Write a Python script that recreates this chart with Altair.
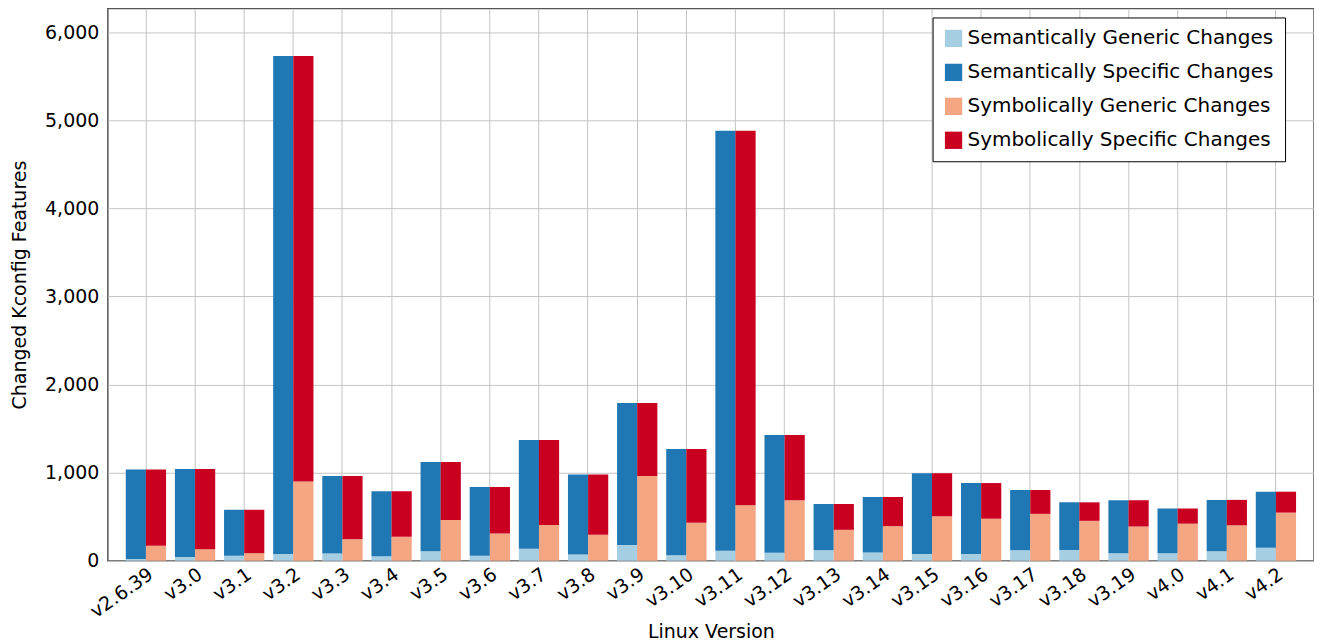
import altair as alt
import pandas as pd

versions = ["v2.6.39", "v3.0", "v3.1", "v3.2", "v3.3", "v3.4", "v3.5", "v3.6", "v3.7",
            "v3.8", "v3.9", "v3.10", "v3.11", "v3.12", "v3.13", "v3.14", "v3.15",
            "v3.16", "v3.17", "v3.18", "v3.19", "v4.0", "v4.1", "v4.2"]
totals = [1035, 1040, 578, 5730, 960, 788, 1121, 835, 1371, 979, 1790, 1268, 4881,
          1427, 643, 723, 993, 881, 802, 662, 685, 592, 690, 783]
sem_generic = [20, 42, 56, 75, 80, 51, 107, 56, 135, 70, 177, 61, 112, 89, 117, 93,
               75, 75, 117, 121, 84, 84, 107, 145]
sym_generic = [168, 130, 84, 900, 242, 270, 462, 308, 406, 294, 960, 429, 629, 685,
               350, 392, 503, 476, 531, 452, 387, 420, 401, 545]

categories = ["Semantically Generic Changes", "Semantically Specific Changes",
              "Symbolically Generic Changes", "Symbolically Specific Changes"]
colors = ["#a6cee3", "#1f78b4", "#f4a582", "#ca0020"]
kinds = ["Semantic", "Symbolic"]
y_ticks = [0, 1000, 2000, 3000, 4000, 5000, 6000]

rows = []
for v, t, sg, yg in zip(versions, totals, sem_generic, sym_generic):
    rows.append(dict(version=v, kind="Semantic", category=categories[0], value=sg, ord=0))
    rows.append(dict(version=v, kind="Semantic", category=categories[1], value=t - sg, ord=1))
    rows.append(dict(version=v, kind="Symbolic", category=categories[2], value=yg, ord=0))
    rows.append(dict(version=v, kind="Symbolic", category=categories[3], value=t - yg, ord=1))
df = pd.DataFrame(rows)

FONT = "DejaVu Sans"

chart = alt.Chart(df).mark_bar(stroke=None).encode(
    x=alt.X("version:N", sort=versions,
            scale=alt.Scale(paddingInner=0.18, paddingOuter=0.365),
            axis=alt.Axis(title="Linux Version", labelAngle=-35, grid=True, ticks=False,
                          domain=False, labelFontSize=19, labelPadding=4,
                          titleFontSize=19, titleFontWeight="normal", titlePadding=1)),
    xOffset=alt.XOffset("kind:N", sort=kinds,
                        scale=alt.Scale(paddingInner=0, paddingOuter=0)),
    y=alt.Y("value:Q", stack="zero",
            scale=alt.Scale(domain=[0, 6270], nice=False),
            axis=alt.Axis(title="Changed Kconfig Features", values=y_ticks,
                          format=",.0f", grid=True, ticks=False, domain=False,
                          labelFontSize=19, labelPadding=9,
                          titleFontSize=19, titleFontWeight="normal", titlePadding=15)),
    color=alt.Color("category:N", scale=alt.Scale(domain=categories, range=colors),
                    legend=alt.Legend(title=None, orient="none", legendX=826, legendY=9,
                                      symbolType="square", symbolSize=300,
                                      symbolStrokeWidth=0, labelFontSize=20,
                                      rowPadding=14, padding=11,
                                      strokeColor="black", fillColor="white",
                                      labelLimit=400)),
    order=alt.Order("ord:Q"),
).properties(
    width=1208, height=553, padding={"left": 2, "top": 0, "right": 0, "bottom": 0}
).configure(
    font=FONT
).configure_view(
    stroke="#555555", strokeWidth=1.5
).configure_axis(
    gridColor="#c4c4c4", gridWidth=1, labelColor="black", titleColor="black"
)

chart.save("out.html", embed_options={"renderer": "svg", "actions": False})
